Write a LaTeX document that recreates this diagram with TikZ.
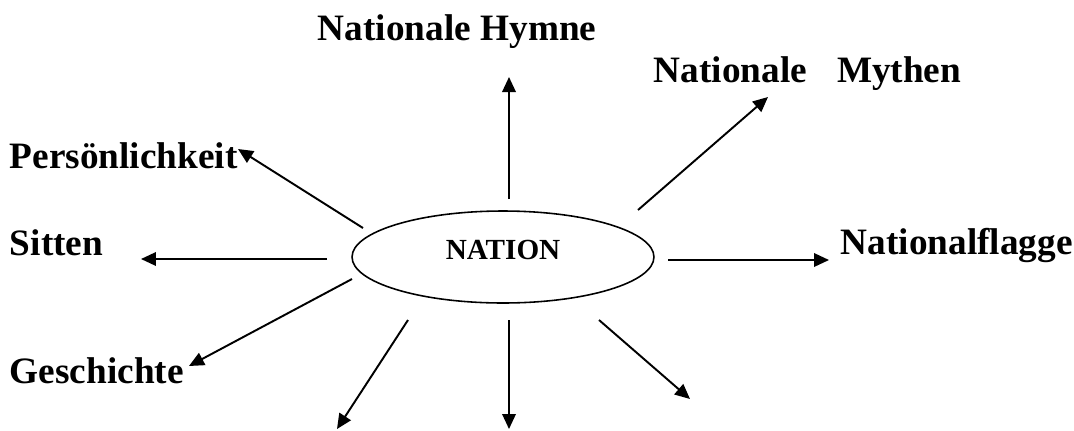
\documentclass[tikz,border=0pt]{standalone}
\usepackage{fontspec}
\setmainfont{Liberation Serif}
\usetikzlibrary{arrows.meta,shapes.geometric}
\begin{document}
\begin{tikzpicture}[x=0.02cm, y=-0.02cm, line width=1.1pt,
			>={Triangle[length=0.3cm,width=0.27cm]},
			word/.style={anchor=base west, inner sep=0pt,
				font=\fontsize{21.2}{25}\selectfont\bfseries}]
			\useasboundingbox (0,0) rectangle (1074,430);
			\node[draw, ellipse, line width=0.9pt, minimum width=6.04cm,
			minimum height=1.84cm, inner sep=0pt] (nation) at (503,257) {};
			\node[inner sep=0pt, font=\fontsize{16.6}{20}\selectfont\bfseries]
			(title) at (503,250) {NATION};
			\node[word] (hymne) at (317,40) {Nationale Hymne};
			\node[word] (mythen) at (653,82) {Nationale\hspace{0.6cm}Mythen};
			\node[word] (person) at (9,168) {Persönlichkeit};
			\node[word] (sitten) at (9,255) {Sitten};
			\node[word] (flagge) at (840,254) {Nationalflagge};
			\node[word] (geschichte) at (9,383) {Geschichte};
			\path (509,199) coordinate (hymneS) (509,77) coordinate (hymneE)
			(638,210) coordinate (mythenS) (768,97) coordinate (mythenE)
			(363,228) coordinate (personS) (238,149) coordinate (personE)
			(327,259) coordinate (sittenS) (141,259) coordinate (sittenE)
			(668,260) coordinate (flaggeS) (829,260) coordinate (flaggeE)
			(352,279) coordinate (geschichteS) (189,366) coordinate (geschichteE)
			(408,320) coordinate (linksS) (337,429) coordinate (linksE)
			(509,320) coordinate (untenS) (509,429) coordinate (untenE)
			(599,320) coordinate (rechtsS) (690,399) coordinate (rechtsE)
			;
			\foreach \d in {hymne,mythen,person,sitten,flagge,geschichte,links,unten,rechts}
			\draw[->] (\d S) -- (\d E);
		\end{tikzpicture}
\end{document}
